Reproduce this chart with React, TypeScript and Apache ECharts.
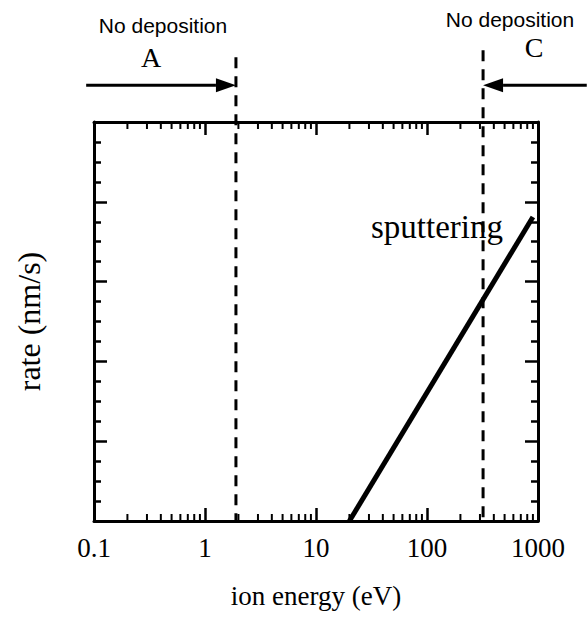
import React, { useEffect, useRef } from "react";
import * as echarts from "echarts";

// x axis: ion energy (eV), log scale
const xTickLabels = ["0.1", "1", "10", "100", "1000"];
const xMin = 0.1;
const xMax = 1000;
const xMinorTicks = [
  0.2, 0.3, 0.4, 0.5, 0.6, 0.7, 0.8, 0.9,
  2, 3, 4, 5, 6, 7, 8, 9,
  20, 30, 40, 50, 60, 70, 80, 90,
  200, 300, 400, 500, 600, 700, 800, 900,
];
// y axis: rate (arbitrary units, no labels)
const yMin = 0;
const yMax = 5;
const yInterval = 1;

// sputtering line (energy, rate)
const sputterEnergy = [20, 900];
const sputterRate = [0, 3.81];

// boundaries of "No deposition" regions
const boundaryA = 1.9;
const boundaryC = 320;
const boundaryTopA = 5.81;
const boundaryTopC = 5.9;

// arrows: [from energy, to energy, rate level]
const arrowLevel = 5.46;
const arrows = [
  [0.085, boundaryA, arrowLevel],
  [2750, boundaryC, arrowLevel],
];

export default function App() {
  const ref = useRef<HTMLDivElement>(null);

  useEffect(() => {
    if (!ref.current) return;
    const chart = echarts.init(ref.current, null, { renderer: "svg" });
    const serif = "Liberation Serif";
    const sans = "Liberation Sans";

    const yAxisBase = {
      type: "value",
      min: yMin,
      max: yMax,
      interval: yInterval,
      axisLine: { show: true, onZero: false, lineStyle: { color: "#000", width: 3 } },
      axisTick: { show: true, inside: true, length: 13, lineStyle: { color: "#000", width: 2.5 } },
      minorTick: { show: true, splitNumber: 4, length: 7, lineStyle: { color: "#000", width: 2.5 } },
      axisLabel: { show: false },
      splitLine: { show: false },
      minorSplitLine: { show: false },
    };

    const option: any = {
      animation: false,
      backgroundColor: "#fff",
      grid: { left: 94, top: 122, width: 444, height: 399, containLabel: false },
      xAxis: [
        {
          type: "log",
          logBase: 10,
          min: xMin,
          max: xMax,
          position: "bottom",
          axisLine: { show: true, onZero: false, lineStyle: { color: "#000", width: 3 } },
          axisTick: { show: true, inside: true, length: 13, lineStyle: { color: "#000", width: 2.5 } },
          axisLabel: {
            show: true,
            color: "#000",
            fontFamily: serif,
            fontSize: 27,
            margin: 13,
            formatter: (v: number) => {
              const idx = Math.round(Math.log10(v)) + 1;
              return xTickLabels[idx] ?? "";
            },
          },
          splitLine: { show: false },
          name: "ion energy (eV)",
          nameLocation: "middle",
          nameGap: 61,
          nameTextStyle: { color: "#000", fontFamily: serif, fontSize: 27 },
        },
        {
          type: "log",
          logBase: 10,
          min: xMin,
          max: xMax,
          position: "top",
          axisLine: { show: true, onZero: false, lineStyle: { color: "#000", width: 3 } },
          axisTick: { show: true, inside: true, length: 13, lineStyle: { color: "#000", width: 2.5 } },
          axisLabel: { show: false },
          splitLine: { show: false },
        },
      ],
      yAxis: [
        {
          ...yAxisBase,
          position: "left",
          name: "rate (nm/s)",
          nameLocation: "middle",
          nameGap: 49,
          nameRotate: 90,
          nameTextStyle: { color: "#000", fontFamily: serif, fontSize: 32 },
        },
        { ...yAxisBase, position: "right" },
      ],
      series: [
        {
          type: "custom",
          xAxisIndex: 0,
          yAxisIndex: 0,
          clip: false,
          silent: true,
          data: xMinorTicks.map((v) => [v, 0]),
          renderItem: (params: any, api: any) => {
            const x = api.coord([api.value(0), 0])[0];
            const cs = params.coordSys;
            const len = 7;
            const style = { stroke: "#000", lineWidth: 2 };
            return {
              type: "group",
              children: [
                { type: "line", shape: { x1: x, y1: cs.y + cs.height, x2: x, y2: cs.y + cs.height - len }, style },
                { type: "line", shape: { x1: x, y1: cs.y, x2: x, y2: cs.y + len }, style },
              ],
            };
          },
        },
        {
          type: "line",
          xAxisIndex: 0,
          yAxisIndex: 0,
          data: sputterEnergy.map((e, i) => [e, sputterRate[i]]),
          symbol: "none",
          clip: false,
          lineStyle: { color: "#000", width: 5 },
        },
        {
          type: "line",
          xAxisIndex: 0,
          yAxisIndex: 0,
          data: [[boundaryA, boundaryTopA], [boundaryA, yMin]],
          symbol: "none",
          clip: false,
          lineStyle: { color: "#000", width: 3, type: [11, 8] },
        },
        {
          type: "line",
          xAxisIndex: 0,
          yAxisIndex: 0,
          data: [[boundaryC, boundaryTopC], [boundaryC, yMin]],
          symbol: "none",
          clip: false,
          lineStyle: { color: "#000", width: 3, type: [11, 8] },
        },
        {
          type: "custom",
          xAxisIndex: 0,
          yAxisIndex: 0,
          clip: false,
          silent: true,
          encode: { x: [0, 1], y: 2 },
          data: arrows,
          renderItem: (_params: any, api: any) => {
            const p0 = api.coord([api.value(0), api.value(2)]);
            const p1 = api.coord([api.value(1), api.value(2)]);
            const dir = p1[0] > p0[0] ? 1 : -1;
            const headLen = 20;
            const headHalf = 7;
            const base = p1[0] - dir * headLen;
            return {
              type: "group",
              children: [
                {
                  type: "line",
                  shape: { x1: p0[0], y1: p0[1], x2: base, y2: p1[1] },
                  style: { stroke: "#000", lineWidth: 3 },
                },
                {
                  type: "polygon",
                  shape: { points: [[p1[0], p1[1]], [base, p1[1] - headHalf], [base, p1[1] + headHalf]] },
                  style: { fill: "#000" },
                },
              ],
            };
          },
        },
      ],
      graphic: [
        {
          type: "text",
          x: 163,
          y: 25,
          style: { text: "No deposition", fill: "#000", font: `21px "${sans}"`, textAlign: "center", textVerticalAlign: "middle" },
        },
        {
          type: "text",
          x: 151,
          y: 57,
          style: { text: "A", fill: "#000", font: `28px "${serif}"`, textAlign: "center", textVerticalAlign: "middle" },
        },
        {
          type: "text",
          x: 510,
          y: 19,
          style: { text: "No deposition", fill: "#000", font: `21px "${sans}"`, textAlign: "center", textVerticalAlign: "middle" },
        },
        {
          type: "text",
          x: 534,
          y: 47,
          style: { text: "C", fill: "#000", font: `28px "${serif}"`, textAlign: "center", textVerticalAlign: "middle" },
        },
        {
          type: "text",
          x: 371,
          y: 227,
          style: { text: "sputtering", fill: "#000", font: `33px "${serif}"`, textAlign: "left", textVerticalAlign: "middle" },
        },
      ],
    };

    chart.setOption(option);
    return () => chart.dispose();
  }, []);

  return (
    <div
      ref={ref}
      style={{ position: "fixed", left: 0, top: 0, width: 587, height: 617, background: "#fff" }}
    />
  );
}
